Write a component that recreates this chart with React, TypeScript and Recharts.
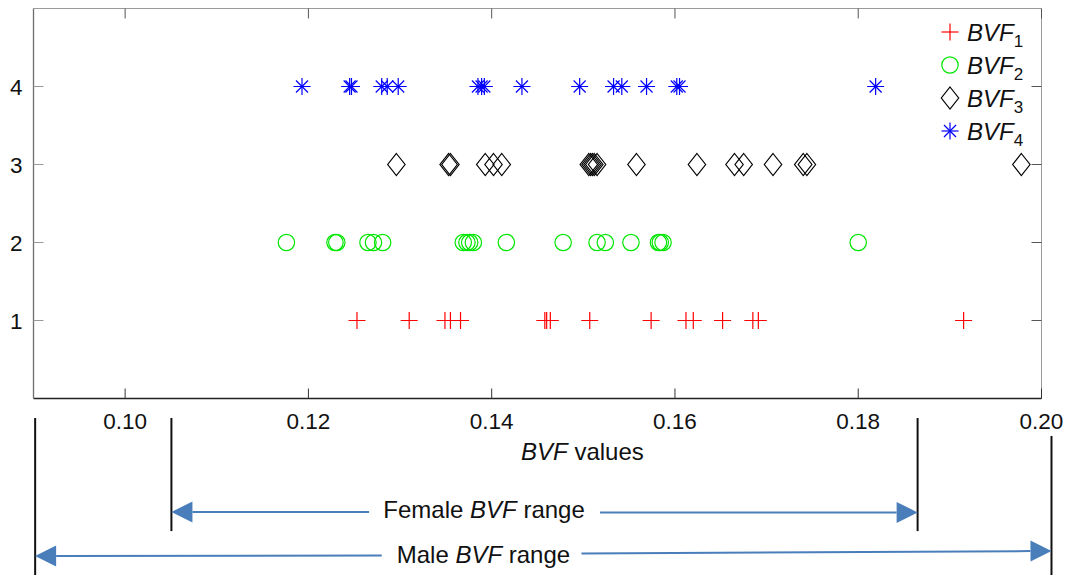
import {
  ScatterChart, Scatter, XAxis, YAxis, Legend,
  ReferenceLine, ReferenceDot,
} from 'recharts'

// BVF samples per group
const BVF1 = [0.1253, 0.1310, 0.1349, 0.1355, 0.1366, 0.1458, 0.1460, 0.1464, 0.1507, 0.1574, 0.1612, 0.1620, 0.1652, 0.1685, 0.1691, 0.1915]
const BVF2 = [0.1176, 0.1229, 0.1231, 0.1265, 0.1271, 0.1281, 0.1369, 0.1373, 0.1376, 0.1380, 0.1416, 0.1478, 0.1515, 0.1524, 0.1552, 0.1582, 0.1584, 0.1587, 0.1800]
const BVF3 = [0.1296, 0.1353, 0.1355, 0.1393, 0.1402, 0.1411, 0.1506, 0.1508, 0.1510, 0.1512, 0.1515, 0.1558, 0.1624, 0.1665, 0.1675, 0.1707, 0.1740, 0.1744, 0.1978]
const BVF4 = [0.1193, 0.1245, 0.1247, 0.1280, 0.1286, 0.1298, 0.1385, 0.1389, 0.1392, 0.1433, 0.1496, 0.1533, 0.1542, 0.1569, 0.1602, 0.1605, 0.1819]

const X_TICKS = [0.10, 0.12, 0.14, 0.16, 0.18, 0.20]
const Y_TICKS = [1, 2, 3, 4]
const X_DOMAIN = [0.09, 0.20]
const Y_DOMAIN = [0, 5]

// annotation ranges below the axis
const FEMALE_RANGE = [0.10505, 0.18648]
const MALE_RANGE = [0.09018, 0.20109]
const FEMALE_GAP = [0.12662, 0.15182]
const MALE_GAP = [0.1280, 0.1498]

const FONT = '"Liberation Sans", Arial, sans-serif'
const ARROW = '#4a7ebb'
const BOX = '#9a9a9a'

const toPoints = (vals: number[], row: number) => vals.map((x) => ({ x, y: row }))

const Plus = ({ cx, cy, color }: any) => (
  <g stroke={color} strokeWidth={1.2}>
    <line x1={cx - 8.5} y1={cy} x2={cx + 8.5} y2={cy} />
    <line x1={cx} y1={cy - 8.5} x2={cx} y2={cy + 8.5} />
  </g>
)
const Ring = ({ cx, cy, color }: any) => (
  <circle cx={cx} cy={cy} r={8.2} fill="none" stroke={color} strokeWidth={1.2} />
)
const Diamond = ({ cx, cy, color }: any) => (
  <polygon
    points={`${cx},${cy - 11} ${cx + 8.7},${cy} ${cx},${cy + 11} ${cx - 8.7},${cy}`}
    fill="none" stroke={color} strokeWidth={1.2}
  />
)
const Star = ({ cx, cy, color }: any) => (
  <g stroke={color} strokeWidth={1.2}>
    <line x1={cx - 8.5} y1={cy} x2={cx + 8.5} y2={cy} />
    <line x1={cx} y1={cy - 8.5} x2={cx} y2={cy + 8.5} />
    <line x1={cx - 6} y1={cy - 6} x2={cx + 6} y2={cy + 6} />
    <line x1={cx - 6} y1={cy + 6} x2={cx + 6} y2={cy - 6} />
  </g>
)

const SERIES = [
  { name: 'BVF1', sub: '1', data: BVF1, row: 1, color: '#ff0000', Mark: Plus },
  { name: 'BVF2', sub: '2', data: BVF2, row: 2, color: '#00e600', Mark: Ring },
  { name: 'BVF3', sub: '3', data: BVF3, row: 3, color: '#000000', Mark: Diamond },
  { name: 'BVF4', sub: '4', data: BVF4, row: 4, color: '#0000ff', Mark: Star },
]

const BottomTick = ({ x, y, payload }: any) => (
  <g>
    <line x1={x} y1={y} x2={x} y2={y - 10} stroke="#333" />
    <text x={x} y={y + 30} textAnchor="middle" fontSize={22.5} fontFamily={FONT} fill="#111">
      {payload.value.toFixed(2)}
    </text>
  </g>
)
const LeftTick = ({ x, y, payload }: any) => (
  <g>
    <line x1={x} y1={y} x2={x + 10} y2={y} stroke="#999" />
    <text x={x - 11} y={y + 8} textAnchor="end" fontSize={22.5} fontFamily={FONT} fill="#111">
      {payload.value}
    </text>
  </g>
)

const arrowShape = (p: any) => {
  const { x1, y1, x2, y2 } = p
  const a = Math.atan2(y2 - y1, x2 - x1)
  const L = 21
  const W = 10.5
  const bx = x2 - L * Math.cos(a)
  const by = y2 - L * Math.sin(a)
  const pts = `${x2},${y2} ${bx - W * Math.sin(a)},${by + W * Math.cos(a)} ${bx + W * Math.sin(a)},${by - W * Math.cos(a)}`
  return (
    <g>
      <line x1={x1} y1={y1} x2={bx} y2={by} stroke={ARROW} strokeWidth={2} />
      <polygon points={pts} fill={ARROW} />
    </g>
  )
}

const textShape = (label: string) => (p: any) => (
  <text x={p.cx} y={p.cy} dy="0.35em" textAnchor="middle" fontSize={24} fontFamily={FONT} fill="#111">
    {label}<tspan fontStyle="italic">BVF</tspan>{label ? ' range' : ' values'}
  </text>
)

const LegendBox = () => (
  <svg width={125} height={140}>
    {SERIES.map((s, i) => {
      const cy = 17 + i * 33
      const M = s.Mark
      return (
        <g key={s.name}>
          <M cx={14} cy={cy} color={s.color} />
          <text x={31} y={cy + 8.5} fontSize={24} fontFamily={FONT} fill="#111">
            <tspan fontStyle="italic">BVF</tspan>
            <tspan fontSize={17} dy={6}>{s.sub}</tspan>
          </text>
        </g>
      )
    })}
  </svg>
)

export default function App() {
  return (
    <div style={{ width: 1065, height: 575, position: 'relative', background: '#fff' }}>
      <style>{'body{margin:0}'}</style>
      <ScatterChart
        width={1065}
        height={575}
        margin={{ top: 8.5, right: 23.5, left: 0, bottom: 146.5 }}
      >
        <XAxis
          dataKey="x" type="number" domain={X_DOMAIN} ticks={X_TICKS}
          allowDataOverflow interval={0} height={30}
          tickSize={0} tickMargin={0} tickLine={false}
          axisLine={{ stroke: '#222', strokeWidth: 1.3 }}
          tick={<BottomTick />}
        />
        <YAxis
          dataKey="y" type="number" domain={Y_DOMAIN} ticks={Y_TICKS}
          allowDataOverflow interval={0} width={33.5}
          tickSize={0} tickMargin={0} tickLine={false}
          axisLine={{ stroke: '#6e6e6e', strokeWidth: 1.3 }}
          tick={<LeftTick />}
        />

        {/* box: top and right edges with inward ticks */}
        <ReferenceLine y={Y_DOMAIN[1]} stroke={BOX} ifOverflow="visible" />
        <ReferenceLine x={X_DOMAIN[1]} stroke={BOX} ifOverflow="visible" />
        {X_TICKS.map((t) => (
          <ReferenceLine key={'tx' + t} ifOverflow="visible" stroke="#555"
            segment={[{ x: t, y: Y_DOMAIN[1] }, { x: t, y: Y_DOMAIN[1] - 0.128 }]} />
        ))}
        {Y_TICKS.map((t) => (
          <ReferenceLine key={'ty' + t} ifOverflow="visible" stroke="#555"
            segment={[{ x: X_DOMAIN[1], y: t }, { x: X_DOMAIN[1] - 0.00109, y: t }]} />
        ))}

        <Legend
          layout="vertical" align="center" verticalAlign="middle"
          wrapperStyle={{ top: 15, left: 936, width: 125, height: 140 }}
          content={() => <LegendBox />}
        />
        {SERIES.map((s) => (
          <Scatter
            key={s.name}
            name={s.name}
            data={toPoints(s.data, s.row)}
            isAnimationActive={false}
            shape={(p: any) => <s.Mark cx={p.cx} cy={p.cy} color={s.color} />}
          />
        ))}

        {/* range guides */}
        <ReferenceLine ifOverflow="visible" stroke="#111" strokeWidth={2}
          segment={[{ x: FEMALE_RANGE[0], y: -0.25 }, { x: FEMALE_RANGE[0], y: -1.7 }]} />
        <ReferenceLine ifOverflow="visible" stroke="#111" strokeWidth={2}
          segment={[{ x: FEMALE_RANGE[1], y: -0.25 }, { x: FEMALE_RANGE[1], y: -1.7 }]} />
        <ReferenceLine ifOverflow="visible" stroke="#111" strokeWidth={2}
          segment={[{ x: MALE_RANGE[0], y: -0.25 }, { x: MALE_RANGE[0], y: -2.4 }]} />
        <ReferenceLine ifOverflow="visible" stroke="#111" strokeWidth={2}
          segment={[{ x: MALE_RANGE[1], y: -0.48 }, { x: MALE_RANGE[1], y: -2.4 }]} />

        <ReferenceLine ifOverflow="visible" shape={arrowShape}
          segment={[{ x: FEMALE_GAP[0], y: -1.455 }, { x: FEMALE_RANGE[0], y: -1.455 }]} />
        <ReferenceLine ifOverflow="visible" shape={arrowShape}
          segment={[{ x: FEMALE_GAP[1], y: -1.46 }, { x: FEMALE_RANGE[1], y: -1.46 }]} />
        <ReferenceLine ifOverflow="visible" shape={arrowShape}
          segment={[{ x: MALE_GAP[0], y: -2.013 }, { x: MALE_RANGE[0], y: -2.019 }]} />
        <ReferenceLine ifOverflow="visible" shape={arrowShape}
          segment={[{ x: MALE_GAP[1], y: -1.987 }, { x: MALE_RANGE[1], y: -1.955 }]} />

        <ReferenceDot ifOverflow="visible" x={0.1499} y={-0.686} shape={textShape('')} />
        <ReferenceDot ifOverflow="visible" x={0.13917} y={-1.43} shape={textShape('Female ')} />
        <ReferenceDot ifOverflow="visible" x={0.1391} y={-2.006} shape={textShape('Male ')} />
      </ScatterChart>
    </div>
  )
}
